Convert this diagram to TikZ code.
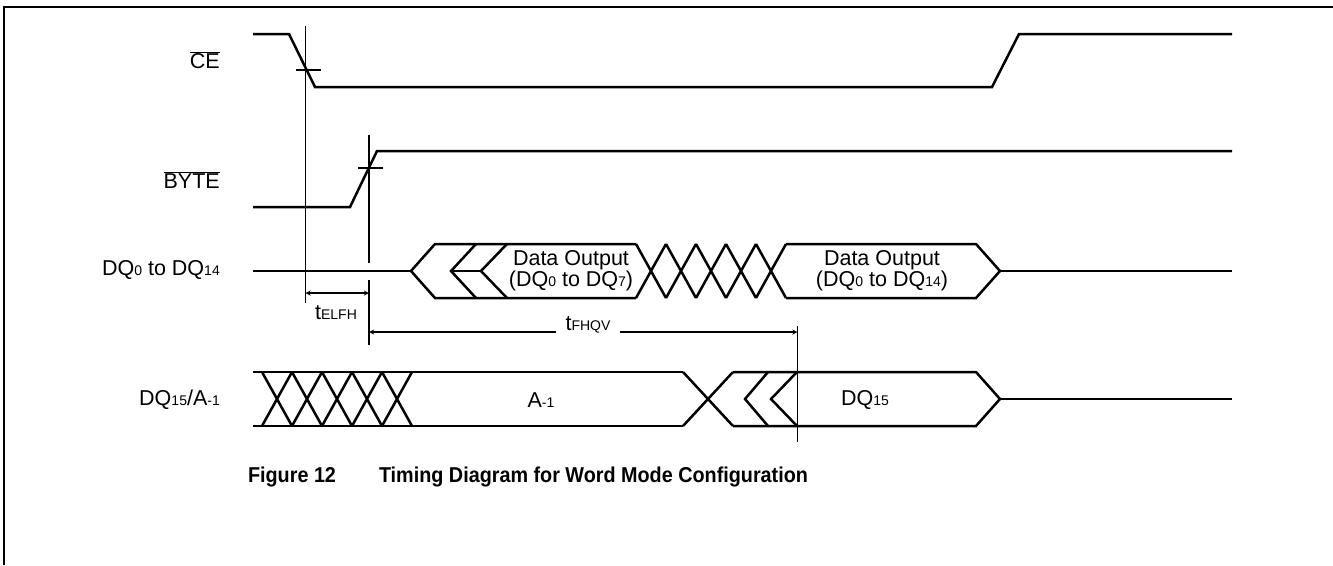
\documentclass[tikz,border=0pt]{standalone}
\usepackage{fontspec}
\setmainfont{Liberation Sans}
\newcommand\lo[1]{{\fontsize{14}{14}\selectfont #1}}
\newcommand\nbar[1]{$\overline{\mbox{#1}}$}
\begin{document}
\begin{tikzpicture}[x=1pt,y=-1pt,line join=miter,>=stealth,font=\fontsize{21.5}{20}\selectfont,
  sig/.style={line width=2.5pt},
  mark line/.style={line width=1.8pt},
  dim/.style={line width=1.3pt,<->},
  lbl/.style={anchor=east,inner sep=0pt}]
\def\xs{253}
\def\xe{1232}
\useasboundingbox (0,0) rectangle (1333,565);
% frame
\draw[line width=1.3pt] (4,565) -- (4,7) -- (1333,7);
% signal names
\node[lbl] (ce) at (220,60) {\nbar{CE}};
\node[lbl] (byte) at (220,180) {\nbar{BYTE}};
\node[lbl] (dqlo) at (220,270) {DQ\lo{0} to DQ\lo{14}};
\node[lbl] (dqhi) at (220,400) {DQ\lo{15}/A\lo{-1}};
% CE and BYTE
\draw[sig] (\xs,34) -- (289,34) -- (315,87) -- (992,87) -- (1019,34) -- (\xe,34);
\draw[sig] (\xs,207) -- (350,207) -- (377,151) -- (\xe,151);
% DQ0 to DQ14
\draw[sig] (\xs,271) -- (411,271);
\draw[sig] (1000,271) -- (\xe,271);
\draw[sig] (636,244) -- (435,244) -- (411,271) -- (435,298) -- (636,298);
\draw[sig] (476,244) -- (451,271) -- (476,298);
\draw[sig] (507,244) -- (481,271) -- (507,298);
\draw[sig] (451,271) -- (481,271);
\foreach \i in {0,...,4}{
  \draw[sig] (636+30*\i,244) -- (666+30*\i,298) (636+30*\i,298) -- (666+30*\i,244);}
\draw[sig] (786,244) -- (976,244) -- (1000,271) -- (976,298) -- (786,298);
\node[align=center] (out7) at (571,271) {Data Output\\(DQ\lo{0} to DQ\lo{7})};
\node[align=center] (out14) at (882,271) {Data Output\\(DQ\lo{0} to DQ\lo{14})};
% DQ15/A-1
\draw[sig] (\xs,372) -- (683,372) (\xs,426) -- (683,426);
\foreach \i in {0,...,4}{
  \draw[sig] (262+30*\i,372) -- (292+30*\i,426) (262+30*\i,426) -- (292+30*\i,372);}
\draw[sig] (683,372) -- (733,426) (683,426) -- (733,372);
\draw[sig] (733,372) -- (976,372) -- (1000,399) -- (976,426) -- (733,426);
\draw[sig] (768,372) -- (745,399) -- (768,426);
\draw[sig] (797,372) -- (771,399) -- (797,426);
\draw[sig] (1000,399) -- (\xe,399);
\node (am1) at (541,400) {A\lo{-1}};
\node (dq15) at (865,400) {DQ\lo{15}};
% reference lines
\coordinate (e1) at (305.5,293);
\coordinate (f1) at (369,293);
\coordinate (f2) at (369,332);
\coordinate (v2) at (797.5,332);
\draw[mark line] (305.5,26) -- (305.5,303) (296,70) -- (321,70);
\draw[mark line] (369,135) -- (369,263) (369,280) -- (369,345) (358,168) -- (383,168);
\draw[mark line] (797.5,326) -- (797.5,442);
\draw[dim] (e1) -- (f1);
\draw[dim] (f2) -- (v2);
\node[fill=white,inner xsep=10pt,inner ysep=2pt] (tfhqv) at (588,325) {t\lo{FHQV}};
\node (telfh) at (336,313) {t\lo{ELFH}};
% caption
\node[font=\fontsize{21.5}{21.5}\selectfont\bfseries] (cap) at (528,477) {\scalebox{0.92}[1]{Figure 12}\hspace{43pt}\scalebox{0.92}[1]{Timing Diagram for Word Mode Configuration}};
\end{tikzpicture}
\end{document}
